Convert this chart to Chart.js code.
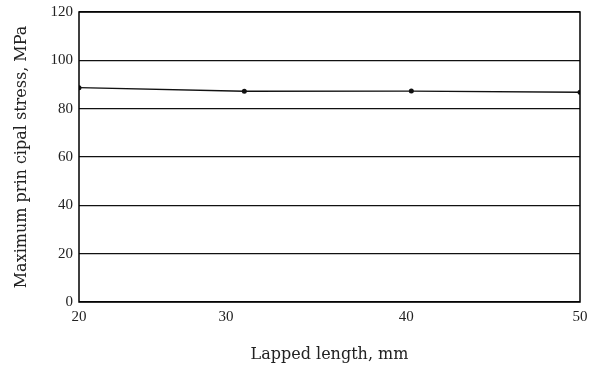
<!DOCTYPE html>
<html>
<head>
<meta charset="utf-8">
<script src="https://cdn.jsdelivr.net/npm/chart.js@4"></script>
<style>
  html, body { margin: 0; padding: 0; background: #fff; }
  #wrap { width: 595px; height: 365px; }
</style>
</head>
<body>
<div id="wrap"><canvas id="stressChart" width="595" height="365"></canvas></div>
<script>
// lapped length (mm) vs max principal stress (MPa)
const lappedLength = [20, 29.9, 39.9, 50];
const maxStress = [88.7, 87.2, 87.3, 86.8];
// x ticks sit where the printed labels are
const xTickValues = [20, 28.8, 39.6, 50];
const xTickLabels = ['20', '30', '40', '50'];
const yTickValues = [0, 20, 40, 60, 80, 100, 120];

const serif = "'Liberation Serif', 'DejaVu Serif', serif";
const wideSerif = "'DejaVu Serif', serif";

// draw the full box round the plot
const frame = {
    id: 'frame',
    afterDraw(chart) {
        const a = chart.chartArea;
        const ctx = chart.ctx;
        ctx.save();
        ctx.strokeStyle = '#000';
        ctx.lineWidth = 1.5;
        ctx.strokeRect(a.left, a.top, a.right - a.left, a.bottom - a.top);
        ctx.restore();
    }
};

const ctx = document.getElementById('stressChart').getContext('2d');
const chart = new Chart(ctx, {
    type: 'scatter',
    data: {
        datasets: [{
            data: lappedLength.map((x, i) => ({ x: x, y: maxStress[i] })),
            showLine: true,
            borderColor: '#111',
            borderWidth: 1.3,
            backgroundColor: '#111',
            pointRadius: 2.5,
            pointBorderWidth: 0,
            fill: false
        }]
    },
    options: {
        responsive: false,
        animation: false,
        events: [],
        layout: { padding: { left: 0, right: 15, top: 12, bottom: 0 } },
        plugins: { legend: { display: false }, tooltip: { enabled: false } },
        scales: {
            x: {
                type: 'linear',
                min: 20,
                max: 50,
                afterBuildTicks: (scale) => {
                    scale.ticks = xTickValues.map(v => ({ value: v }));
                },
                afterFit: (scale) => { scale.height = 63; },
                grid: { display: false },
                border: { display: false },
                ticks: {
                    color: '#222',
                    font: { family: serif, size: 15, lineHeight: 1 },
                    padding: 0,
                    maxRotation: 0,
                    callback: (v, i) => xTickLabels[i]
                },
                title: {
                    display: true,
                    text: 'Lapped length, mm',
                    color: '#222',
                    font: { family: wideSerif, size: 16 },
                    padding: { top: 0, bottom: 1 }
                }
            },
            y: {
                min: 0,
                max: 120,
                afterBuildTicks: (scale) => {
                    scale.ticks = yTickValues.map(v => ({ value: v }));
                },
                afterFit: (scale) => { scale.width = 79; },
                grid: { color: '#111', lineWidth: 1.3, drawTicks: false },
                border: { display: false },
                ticks: {
                    color: '#222',
                    font: { family: serif, size: 15, lineHeight: 0.8 },
                    padding: 6
                },
                title: {
                    display: true,
                    text: 'Maximum prin cipal stress, MPa',
                    color: '#222',
                    font: { family: wideSerif, size: 16 },
                    padding: { top: 12, bottom: 0 }
                }
            }
        }
    },
    plugins: [frame]
});
</script>
</body>
</html>
